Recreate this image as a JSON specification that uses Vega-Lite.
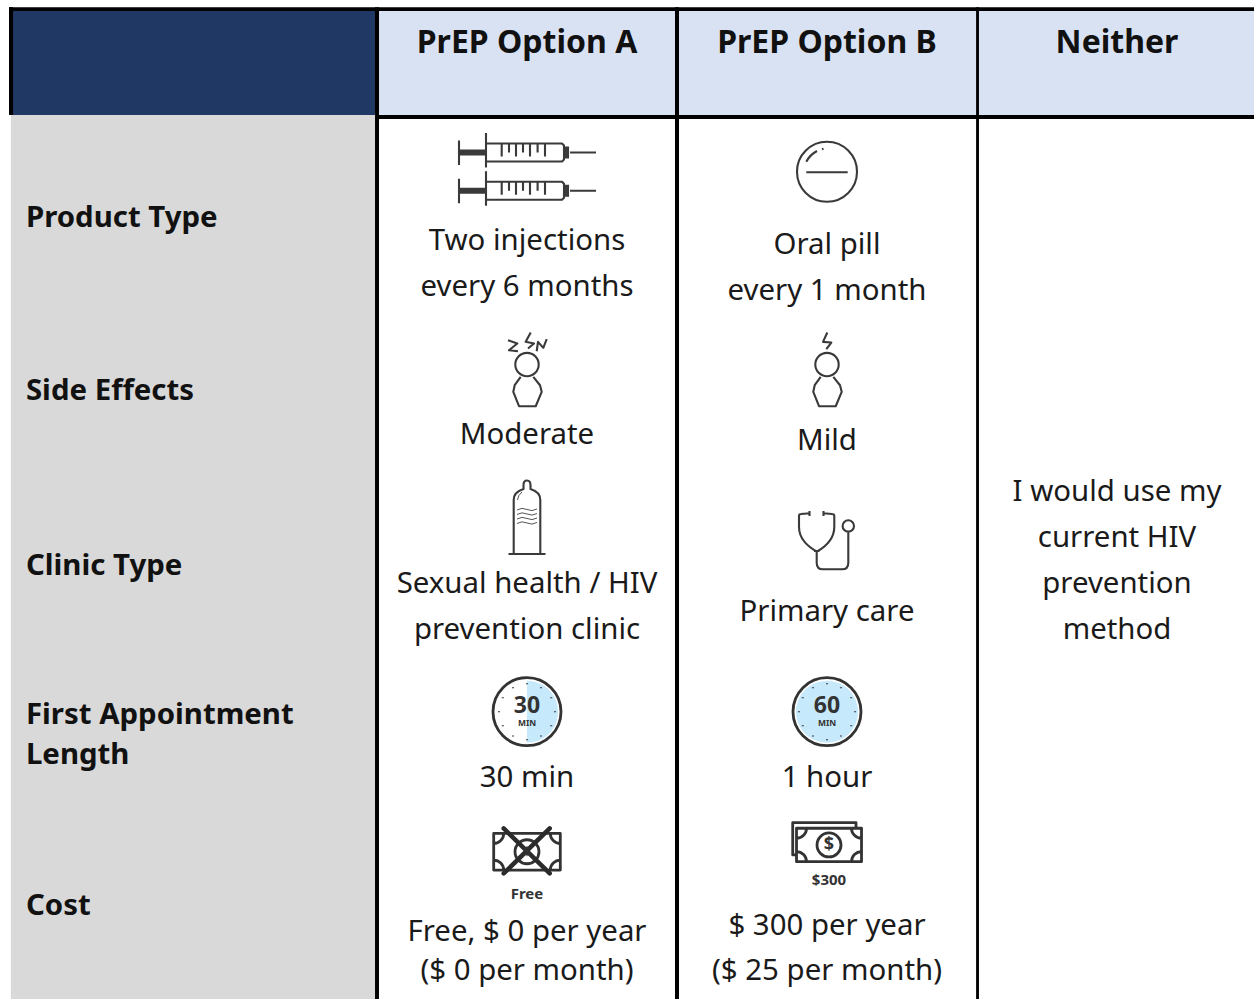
{
"$schema":"https://vega.github.io/schema/vega-lite/v6.json",
"width":1254,"height":999,"padding":0,"autosize":{"type":"none"},
"background":"white",
"config":{"view":{"stroke":null}},
"datasets":{
"cells":[
{"kind":"corner","col":0.005,"col2":1,"rowPos":1.1,"rowPos2":11.51},
{"kind":"stub","col":0.005,"col2":1,"rowPos":11.51,"rowPos2":100},
{"kind":"head","col":1,"col2":3.99,"rowPos":1.1,"rowPos2":11.51},
{"kind":"border","col":0,"col2":3.99,"rowPos":0.72,"rowPos2":1.1},
{"kind":"border","col":0,"col2":0.011,"rowPos":0.72,"rowPos2":11.51},
{"kind":"border","col":0.9946,"col2":1.0067,"rowPos":0.72,"rowPos2":100},
{"kind":"border","col":1.9933,"col2":2.0067,"rowPos":0.72,"rowPos2":100},
{"kind":"border","col":2.997,"col2":3.007,"rowPos":0.72,"rowPos2":100},
{"kind":"border","col":1,"col2":3.99,"rowPos":11.51,"rowPos2":11.91}
],
"icons":[
{"icon":"syringe","part":"main","col":1.5,"rowPos":15.27},
{"icon":"syringe","part":"main","col":1.5,"rowPos":19.1},
{"icon":"pill","part":"main","col":2.5,"rowPos":17.19},
{"icon":"personZ","part":"main","col":1.5,"rowPos":36.49},
{"icon":"personBolt","part":"main","col":2.5,"rowPos":36.49},
{"icon":"condom","part":"main","col":1.5,"rowPos":52.05},
{"icon":"waves","part":"fine","col":1.5,"rowPos":52.05},
{"icon":"stethoscope","part":"main","col":2.5,"rowPos":53.85},
{"icon":"halfDial","part":"tint","col":1.5,"rowPos":71.24},
{"icon":"fullDial","part":"tint","col":2.5,"rowPos":71.24},
{"icon":"ring","part":"bold","col":1.5,"rowPos":71.24},
{"icon":"ring","part":"bold","col":2.5,"rowPos":71.24},
{"icon":"dots","part":"main","col":1.5,"rowPos":71.24},
{"icon":"dots","part":"main","col":2.5,"rowPos":71.24},
{"icon":"bill","part":"bold","col":1.5,"rowPos":85.26},
{"icon":"cross","part":"heavy","col":1.5,"rowPos":85.26},
{"icon":"bills","part":"bold","col":2.5067,"rowPos":84.58}
],
"texts":[
{"role":"header","label":"PrEP Option A","col":1.5,"rowPos":4.3},
{"role":"header","label":"PrEP Option B","col":2.5,"rowPos":4.3},
{"role":"header","label":"Neither","col":3.5,"rowPos":4.3},
{"role":"stub","label":"Product Type","col":0.046,"rowPos":21.82},
{"role":"stub","label":"Side Effects","col":0.046,"rowPos":39.14},
{"role":"stub","label":"Clinic Type","col":0.046,"rowPos":56.66},
{"role":"stub","label":"First Appointment","col":0.046,"rowPos":71.57},
{"role":"stub","label":"Length","col":0.046,"rowPos":75.58},
{"role":"stub","label":"Cost","col":0.046,"rowPos":90.69},
{"role":"body","label":"Two injections","col":1.5,"rowPos":24.12},
{"role":"body","label":"every 6 months","col":1.5,"rowPos":28.73},
{"role":"body","label":"Oral pill","col":2.5,"rowPos":24.52},
{"role":"body","label":"every 1 month","col":2.5,"rowPos":29.13},
{"role":"body","label":"Moderate","col":1.5,"rowPos":43.54},
{"role":"body","label":"Mild","col":2.5,"rowPos":44.14},
{"role":"body","label":"Sexual health / HIV","col":1.5,"rowPos":58.46},
{"role":"body","label":"prevention clinic","col":1.5,"rowPos":63.06},
{"role":"body","label":"Primary care","col":2.5,"rowPos":61.26},
{"role":"body","label":"30 min","col":1.5,"rowPos":77.88},
{"role":"body","label":"1 hour","col":2.5,"rowPos":77.88},
{"role":"body","label":"Free, $ 0 per year","col":1.5,"rowPos":93.29},
{"role":"body","label":"($ 0 per month)","col":1.5,"rowPos":97.2},
{"role":"body","label":"$ 300 per year","col":2.5,"rowPos":92.69},
{"role":"body","label":"($ 25 per month)","col":2.5,"rowPos":97.2},
{"role":"body","label":"I would use my","col":3.5,"rowPos":49.25},
{"role":"body","label":"current HIV","col":3.5,"rowPos":53.85},
{"role":"body","label":"prevention","col":3.5,"rowPos":58.46},
{"role":"body","label":"method","col":3.5,"rowPos":63.06},
{"role":"dial","label":"30","col":1.5,"rowPos":70.7},
{"role":"dial","label":"60","col":2.5,"rowPos":70.7},
{"role":"unit","label":"MIN","col":1.5,"rowPos":72.35},
{"role":"unit","label":"MIN","col":2.5,"rowPos":72.35},
{"role":"price","label":"Free","col":1.5,"rowPos":89.49},
{"role":"price","label":"$300","col":2.5067,"rowPos":88.09},
{"role":"coin","label":"$","col":1.5,"rowPos":85.26},
{"role":"coin2","label":"$","col":2.5067,"rowPos":84.58}
]
},
"encoding":{
"x":{"field":"col","type":"quantitative","axis":null,"scale":{"domain":[0,1,2,3,4],"range":[9,377,677,977,1257],"zero":false,"nice":false}},
"y":{"field":"rowPos","type":"quantitative","axis":null,"scale":{"domain":[0,100],"range":[0,999],"zero":false,"nice":false}}
},
"layer":[
{"data":{"name":"cells"},
 "mark":{"type":"rect","clip":true},
 "encoding":{
  "x2":{"field":"col2"},"y2":{"field":"rowPos2"},
  "color":{"field":"kind","type":"nominal","legend":null,"scale":{"domain":["corner","stub","head","border"],"range":["#1F3864","#D9D9D9","#D9E2F3","#000000"]}}
 }},
{"data":{"name":"icons"},
 "encoding":{
  "shape":{"field":"icon","type":"nominal","legend":null,"scale":{
   "domain":["syringe","pill","personZ","personBolt","condom","waves","stethoscope","halfDial","fullDial","ring","dots","bill","cross","bills"],
   "range":[
    "M-68 -12V12.5M-68 -2H-41M-68 0H-41M-68 2H-41M-41 -19.5V15M-41 -9H35L37 -7V7L35 9H-41M37 -6V6M39 -6V6M41 -6V6M43 0H69M-25.3 -9V4M-18 -9V0M-11 -9V4M-4 -9V0M3 -9V4M10.6 -9V0M18 -9V4",
    "M-30 0A30 30 0 1 1 30 0A30 30 0 1 1 -30 0ZM-20.7 0.5H20.7M-20.7 -10Q-17 -17 -10 -20.7M-5 -22.5L-3.5 -23",
    "M-11.7 0A11.7 11.7 0 1 1 11.7 0A11.7 11.7 0 1 1 -11.7 0ZM-6.3 12.3L-12.3 20.7L-13.7 27.3L-8 41.7H8.7L14.7 27.3L13 20.7L6.3 12.3M-19 -24.3L-9.7 -21L-18 -14.3L-9 -13.3M3.7 -32L-1.3 -22.7L7 -21L1 -16M9.7 -13.3L11 -22.7L16.3 -16.7L19.7 -25.3",
    "M-11.7 0A11.7 11.7 0 1 1 11.7 0A11.7 11.7 0 1 1 -11.7 0ZM-6.3 12.3L-12.3 20.7L-13.7 27.3L-8 41.7H8.7L14.7 27.3L13 20.7L6.3 12.3M0.3 -32L-4 -22.7L4.3 -22L-0.7 -15.3",
    "M-13.3 34V-20Q-13.3 -28 -3.5 -31V-35Q-3.5 -39.5 0 -39.5Q3.5 -39.5 3.5 -35V-31Q13.3 -28 13.3 -20V34M-18.5 34H18.5",
    "M-10 -10Q-5 -13 0 -10.5T10 -11M-10 -5.5Q-5 -8.5 0 -6T10 -6.5M-10 -1Q-5 -4 0 -1.5T10 -2M-10 3.5Q-5 0.5 0 3T10 2.5M-9.5 -20Q-9 -25 -5 -28",
    "M-17 -24.7L-26 -24Q-28 -24 -28 -22L-28 -11.3C-28 2 -18 9 -10.3 13.7C-2 9 7.3 2 7.3 -11.3L7.3 -22Q7.3 -24 5 -24L-3.7 -24.7M-17.5 -27V-22M-3.5 -27V-22M-13 13H-7.5M-10.3 13.7V25Q-10.3 31.3 -4 31.3H15Q21.3 31.3 21.3 25V-5.3M15.6 -12A5.7 5.7 0 1 1 27 -12A5.7 5.7 0 1 1 15.6 -12Z",
    "M0 -31A31 31 0 0 1 0 31Z",
    "M-31 0A31 31 0 1 1 31 0A31 31 0 1 1 -31 0Z",
    "M-34 0A34 34 0 1 1 34 0A34 34 0 1 1 -34 0Z",
    "M0 -28.5V-27.5M14 -24.5V-23.5M24.2 -14.5V-13.5M28 -0.5V0.5M24.2 13.5V14.5M14 23.7V24.7M0 27.5V28.5M-14 23.7V24.7M-24.2 13.5V14.5M-28 -0.5V0.5M-24.2 -14.5V-13.5M-14 -24.5V-23.5",
    "M-33.3 -18.3H33.3V18.3H-33.3ZM-33.3 -8.3A10 10 0 0 0 -23.3 -18.3M23.3 -18.3A10 10 0 0 0 33.3 -8.3M33.3 8.3A10 10 0 0 0 23.3 18.3M-23.3 18.3A10 10 0 0 0 -33.3 8.3M-12 0A12 12 0 1 1 12 0A12 12 0 1 1 -12 0Z",
    "M-23.3 -23.3L22.7 21.7M22.7 -23.3L-23.3 21.7",
    "M-32.5 -16.7H32.5V16.7H-32.5ZM-32.5 -6.7A10 10 0 0 0 -22.5 -16.7M22.5 -16.7A10 10 0 0 0 32.5 -6.7M32.5 6.7A10 10 0 0 0 22.5 16.7M-22.5 16.7A10 10 0 0 0 -32.5 6.7M-12 0A12 12 0 1 1 12 0A12 12 0 1 1 -12 0ZM-32.5 10H-36.3V-22.3H27V-16.7"
   ]}}
 },
 "layer":[
  {"transform":[{"filter":"datum.part === 'tint'"}],
   "mark":{"type":"point","filled":true,"opacity":1,"size":4,"color":"#C6E9FB","strokeWidth":0}},
  {"transform":[{"filter":"datum.part === 'main'"}],
   "mark":{"type":"point","filled":false,"opacity":1,"size":4,"stroke":"#3a3a3a","strokeWidth":2.1,"strokeJoin":"round"}},
  {"transform":[{"filter":"datum.part === 'bold'"}],
   "mark":{"type":"point","filled":false,"opacity":1,"size":4,"stroke":"#333333","strokeWidth":2.8,"strokeJoin":"round"}},
  {"transform":[{"filter":"datum.part === 'fine'"}],
   "mark":{"type":"point","filled":false,"opacity":1,"size":4,"stroke":"#555555","strokeWidth":1}},
  {"transform":[{"filter":"datum.part === 'heavy'"}],
   "mark":{"type":"point","filled":false,"opacity":1,"size":4,"stroke":"#2b2b2b","strokeWidth":4.5,"strokeCap":"round"}}
 ]},
{"data":{"name":"texts"},
 "encoding":{"text":{"field":"label","type":"nominal"}},
 "layer":[
  {"transform":[{"filter":"datum.role === 'header'"}],"mark":{"type":"text","font":"Noto Sans","fontWeight":"bold","fontSize":32,"fill":"#111111","align":"center","baseline":"middle"}},
  {"transform":[{"filter":"datum.role === 'stub'"}],"mark":{"type":"text","font":"Noto Sans","fontWeight":"bold","fontSize":29.4,"fill":"#111111","align":"left","baseline":"middle"}},
  {"transform":[{"filter":"datum.role === 'body'"}],"mark":{"type":"text","font":"Noto Sans","fontSize":29.4,"fill":"#1a1a1a","align":"center","baseline":"middle"}},
  {"transform":[{"filter":"datum.role === 'dial'"}],"mark":{"type":"text","font":"Noto Sans","fontWeight":"bold","fontSize":23,"fill":"#333333","align":"center","baseline":"middle"}},
  {"transform":[{"filter":"datum.role === 'unit'"}],"mark":{"type":"text","font":"Noto Sans","fontWeight":"bold","fontSize":8.5,"fill":"#333333","align":"center","baseline":"middle"}},
  {"transform":[{"filter":"datum.role === 'price'"}],"mark":{"type":"text","font":"Noto Sans","fontWeight":"bold","fontSize":15,"fill":"#333333","align":"center","baseline":"middle"}},
  {"transform":[{"filter":"datum.role === 'coin'"}],"mark":{"type":"text","font":"Noto Sans","fontWeight":"bold","fontSize":13,"fill":"#333333","align":"center","baseline":"middle"}},
  {"transform":[{"filter":"datum.role === 'coin2'"}],"mark":{"type":"text","font":"Noto Sans","fontWeight":"bold","fontSize":18,"fill":"#333333","align":"center","baseline":"middle"}}
 ]}
]
}
